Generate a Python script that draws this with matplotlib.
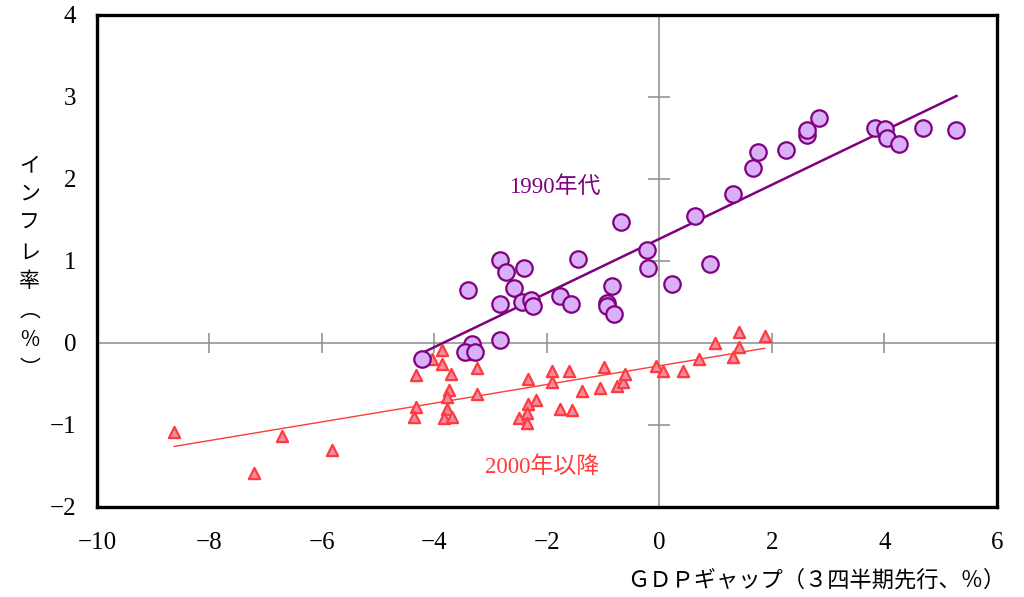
import numpy as np
import matplotlib.pyplot as plt

# 1990s: GDP gap (3 quarters ahead) vs inflation
x90 = [-4.22, -3.40, -2.84, -2.73, -2.41, -2.58, -2.84, -2.44, -2.29, -2.25,
       -1.76, -1.58, -1.44, -0.69, -0.23, -0.20, -0.84, -0.94, -0.94, -0.80,
       0.23, 0.64, -2.84, -3.33, -3.46, -3.28, 0.90, 1.30, 1.66, 1.76,
       2.25, 2.62, 2.62, 2.83, 3.83, 4.01, 4.04, 4.25, 4.68, 5.28]
y90 = [-0.19, 0.65, 1.01, 0.87, 0.91, 0.67, 0.48, 0.50, 0.53, 0.45,
       0.57, 0.48, 1.03, 1.47, 1.13, 0.91, 0.70, 0.49, 0.45, 0.35,
       0.72, 1.55, 0.04, -0.01, -0.11, -0.11, 0.96, 1.82, 2.13, 2.33,
       2.35, 2.54, 2.60, 2.74, 2.62, 2.61, 2.50, 2.43, 2.62, 2.60]

# 2000s onward
x00 = [-8.63, -7.20, -6.71, -5.82, -4.33, -4.33, -4.36, -4.04, -3.86, -3.86,
       -3.71, -3.43, -3.25, -3.75, -3.78, -3.25, -3.78, -3.83, -3.68, -2.33,
       -1.91, -1.91, -1.61, -1.37, -1.06, -0.98, -0.76, -0.65, -0.61, -0.06,
       0.06, 0.41, 0.70, 0.98, 1.30, 1.41, 1.41, 1.87, -2.20, -2.33,
       -2.36, -2.50, -2.36, -1.76, -1.55]
y00 = [-1.09, -1.58, -1.13, -1.31, -0.39, -0.78, -0.90, -0.19, -0.09, -0.26,
       -0.38, -0.14, -0.31, -0.57, -0.66, -0.62, -0.80, -0.92, -0.90, -0.44,
       -0.34, -0.48, -0.34, -0.59, -0.55, -0.29, -0.53, -0.48, -0.38, -0.28,
       -0.34, -0.34, -0.19, 0.00, -0.17, 0.13, -0.05, 0.09, -0.70, -0.75,
       -0.85, -0.92, -0.98, -0.80, -0.82]

# fitted lines (slope, intercept)
fit90 = (0.33, 1.27)
fit00 = (0.114, -0.278)

xticks = [-10, -8, -6, -4, -2, 0, 2, 4, 6]
yticks = [-2, -1, 0, 1, 2, 3, 4]

num_font = ['Liberation Serif', 'Noto Sans CJK JP']
jp_font = ['Noto Sans CJK JP', 'DejaVu Sans']

purple = '#800080'
red = '#FF3B3B'


def lab(t):
    return '−%d' % -t if t < 0 else str(t)


fig = plt.figure(figsize=(10.24, 5.97), dpi=100)
ax = fig.add_axes([0.0947, 0.1508, 0.8789, 0.8241])
ax.set_xlim(-10, 6)
ax.set_ylim(-2, 4)

# zero axes with cross ticks
ax.axhline(0, color='#8c8c8c', lw=1.1, zorder=1)
ax.axvline(0, color='#8c8c8c', lw=1.1, zorder=1)
xt_in = [t for t in xticks if t not in (-10, 0, 6)]
yt_in = [t for t in yticks if t not in (-2, 0, 4)]
ax.plot(xt_in, [0] * len(xt_in), ls='none', marker='|', ms=15, mew=1.1,
        color='#8c8c8c', zorder=1)
ax.plot([0] * len(yt_in), yt_in, ls='none', marker='_', ms=16, mew=1.1,
        color='#8c8c8c', zorder=1)

# regression lines
lx90 = np.array([min(x90), max(x90)])
ax.plot(lx90, fit90[0] * lx90 + fit90[1], color=purple, lw=1.8, zorder=2)
lx00 = np.array([min(x00), max(x00)])
ax.plot(lx00, fit00[0] * lx00 + fit00[1], color=red, lw=1.0, zorder=2)

ax.scatter(x00, y00, marker='^', s=65, facecolor='#F08CA8', edgecolor=red,
           linewidth=1.6, zorder=3)
ax.scatter(x90, y90, marker='o', s=140, facecolor='#D9B0F7', edgecolor=purple,
           linewidth=1.6, zorder=4)

ax.text(-1.87, 1.90, '1990年代', color=purple, fontsize=16.5, family=num_font,
        ha='center', va='center')
ax.text(-2.09, -1.51, '2000年以降', color=red, fontsize=16.5, family=num_font,
        ha='center', va='center')

ax.set_xticks(xticks)
ax.set_yticks(yticks)
ax.set_xticklabels([lab(t) for t in xticks], family=num_font, fontsize=18)
ax.set_yticklabels([lab(t) for t in yticks], family=num_font, fontsize=18)
ax.tick_params(axis='x', length=0, pad=18)
ax.tick_params(axis='y', length=0, pad=15)
for s in ax.spines.values():
    s.set_linewidth(2.4)
    s.set_color('black')

fig.text(0.029, 0.553, '\n'.join(['イ', 'ン', 'フ', 'レ', '率', '︵', '%', '︶']),
         family=jp_font, fontsize=15, ha='center', va='center', linespacing=1.42)
fig.text(0.982, 0.028, 'ＧＤＰギャップ（３四半期先行、％）', family=jp_font,
         fontsize=16, ha='right', va='center')

fig.savefig('out.png', dpi=100)
